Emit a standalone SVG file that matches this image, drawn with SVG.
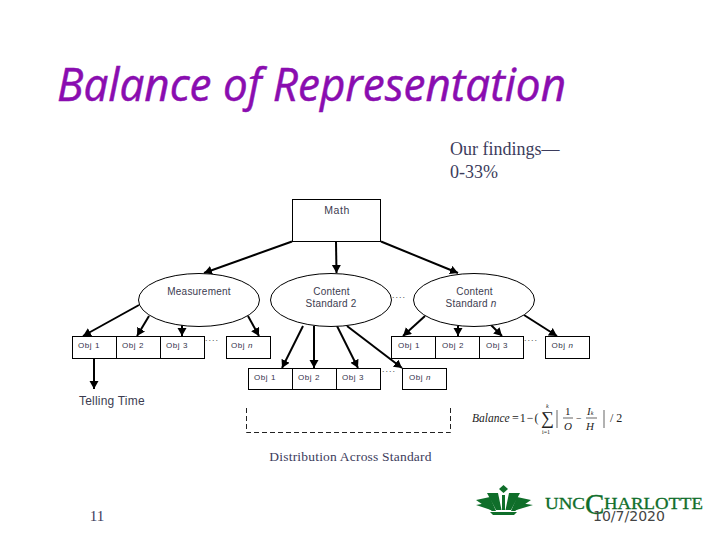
<svg xmlns="http://www.w3.org/2000/svg" width="720" height="540" viewBox="0 0 720 540">
<style>
.box{fill:#fff;stroke:#000;stroke-width:1}
.con{fill:none;stroke:#000;stroke-width:2;marker-end:url(#ah)}
.s{font-family:"Liberation Sans",Arial,sans-serif;font-size:10px;fill:#3c3c50;text-anchor:middle;letter-spacing:.2px}
.o{font-family:"Liberation Sans",Arial,sans-serif;font-size:8px;fill:#33334a;text-anchor:middle;letter-spacing:.6px}
.d{font-family:"Liberation Sans",Arial,sans-serif;font-size:9px;fill:#555;letter-spacing:1px}
.f{font-family:"Liberation Serif","Times New Roman",serif;fill:#222}
</style>
<defs><marker id="ah" markerUnits="userSpaceOnUse" markerWidth="10" markerHeight="10" refX="8" refY="4.500" orient="auto"><path d="M0 0L8 4.500L0 9Z" fill="#000"/></marker></defs>
<rect width="720" height="540" fill="#fff"/>
<text x="57" y="101" font-family="'Open Sans',sans-serif" font-style="italic" font-size="45" fill="#8A0DB0" stroke="#8A0DB0" stroke-width=".5" textLength="509" lengthAdjust="spacingAndGlyphs">Balance of Representation</text>
<g id="findings"><text x="450" y="155" font-family="'Liberation Serif',serif" font-size="18" fill="#3c3c5c">Our findings—</text><text x="450" y="178" font-family="'Liberation Serif',serif" font-size="18" fill="#3c3c5c">0-33%</text></g>
<g id="connectors">
<path class="con" d="M292 241.500L204 273"/><path class="con" d="M336 241.500L336.500 273"/><path class="con" d="M381 241.500L458 273"/>
<path class="con" d="M139 305L83 336"/><path class="con" d="M149 316L137 336"/><path class="con" d="M182 325L182 336"/><path class="con" d="M248 316L259 336"/>
<path class="con" d="M303 326L282 368"/><path class="con" d="M314 326L314 368"/><path class="con" d="M337 326L358 368"/><path class="con" d="M347 326L402 368"/>
<path class="con" d="M425 316L403 336"/><path class="con" d="M458 326L458 336"/><path class="con" d="M491 325L502 336"/><path class="con" d="M524 315L557 336"/>
<path class="con" d="M94 358L94 389"/>
</g>
<g id="math"><rect class="box" x="292.500" y="199.500" width="88" height="42"/><text class="s" x="337" y="214" style="font-size:10.500px;letter-spacing:.6px">Math</text></g>
<g id="measurement"><ellipse class="box" cx="199" cy="300" rx="60.500" ry="26.500"/><text class="s" x="199" y="295">Measurement</text></g>
<g id="standard2"><ellipse class="box" cx="331" cy="300" rx="60.500" ry="26.500"/><text class="s" x="331.500" y="295">Content</text><text class="s" x="331" y="307">Standard 2</text></g>
<g id="standardn"><ellipse class="box" cx="474" cy="300" rx="60.500" ry="26.500"/><text class="s" x="474.500" y="295">Content</text><text class="s" x="471" y="307">Standard <tspan font-style="italic">n</tspan></text></g>
<g id="row1">
<g id="m1"><rect class="box" x="72.500" y="336.500" width="44" height="22"/><text class="o" x="89" y="348">Obj 1</text></g>
<g id="m2"><rect class="box" x="116.500" y="336.500" width="44" height="22"/><text class="o" x="133" y="348">Obj 2</text></g>
<g id="m3"><rect class="box" x="160.500" y="336.500" width="44" height="22"/><text class="o" x="177" y="348">Obj 3</text></g>
<g id="mn"><rect class="box" x="226.500" y="336.500" width="44" height="22"/><text class="o" x="242" y="348">Obj <tspan font-style="italic">n</tspan></text></g>
</g>
<g id="row2">
<g id="c1"><rect class="box" x="248.500" y="368.500" width="44" height="21"/><text class="o" x="265" y="380">Obj 1</text></g>
<g id="c2"><rect class="box" x="292.500" y="368.500" width="44" height="21"/><text class="o" x="309" y="380">Obj 2</text></g>
<g id="c3"><rect class="box" x="336.500" y="368.500" width="44" height="21"/><text class="o" x="353" y="380">Obj 3</text></g>
<g id="cn"><rect class="box" x="402.500" y="368.500" width="44" height="21"/><text class="o" x="420" y="380">Obj <tspan font-style="italic">n</tspan></text></g>
</g>
<g id="row3">
<g id="n1"><rect class="box" x="391.500" y="336.500" width="44" height="22"/><text class="o" x="409" y="348">Obj 1</text></g>
<g id="n2"><rect class="box" x="435.500" y="336.500" width="44" height="22"/><text class="o" x="453" y="348">Obj 2</text></g>
<g id="n3"><rect class="box" x="479.500" y="336.500" width="44" height="22"/><text class="o" x="497" y="348">Obj 3</text></g>
<g id="nn"><rect class="box" x="545.500" y="336.500" width="44" height="22"/><text class="o" x="562.500" y="348">Obj <tspan font-style="italic">n</tspan></text></g>
</g>
<g id="dots">
<text class="d" x="205" y="341">....</text><text class="d" x="392" y="298">....</text><text class="d" x="382" y="372">....</text><text class="d" x="524" y="341">....</text>
</g>
<text x="79" y="405" font-family="'Liberation Sans',sans-serif" font-size="12" fill="#3c3c50" letter-spacing=".2">Telling Time</text>
<path d="M246.500 408V432.500H450.500V408" fill="none" stroke="#222" stroke-dasharray="5 3"/>
<text x="350.500" y="461" text-anchor="middle" font-family="'Liberation Serif',serif" font-size="13.500" fill="#3c3c5c" letter-spacing=".2">Distribution Across Standard</text>
<g id="formula" class="f">
<text x="472" y="422" font-size="11.500" font-style="italic">Balance</text><text x="512" y="422" font-size="12" letter-spacing="1">=1−(</text>
<text x="541" y="424" font-size="18">∑</text><text x="546" y="408" font-size="6" font-style="italic">k</text><text x="542" y="434" font-size="6">i=1</text>
<path d="M557 410V428M604 410V428" stroke="#222" stroke-width=".7" fill="none"/>
<text x="565" y="415" font-size="11">1</text><path d="M563 418H573M586 418H597" stroke="#222" stroke-width=".7"/>
<text x="564" y="430" font-size="11" font-style="italic">O</text><text x="576" y="422" font-size="10">−</text>
<text x="587" y="415" font-size="11" font-style="italic">I<tspan font-size="6">k</tspan></text><text x="586" y="430" font-size="11" font-style="italic">H</text>
<text x="610" y="422" font-size="12">/ 2</text>
</g>
<text x="97" y="521" text-anchor="middle" font-family="'Liberation Serif',serif" font-size="15" fill="#3c3c5c">11</text>
<g id="logo" fill="#0F6E2A">
<path d="M503.500 485L508 489L503.500 493L499 489Z"/>
<path d="M487 493H498L501.500 510H496ZM520 493H509L505.500 510H511Z"/>
<path d="M476 500L490 497L496 511H492ZM531 500L517 497L511 511H515Z"/>
<path d="M502 495H505V510H502Z"/>
<path d="M476 505L487 503L494 511ZM533 505L520 503L513 511Z"/>
<path d="M490 512H517L514 515H493Z"/>
<g stroke="#0F6E2A" stroke-width=".3">
<text x="545" y="509" font-family="'Liberation Serif',serif" font-size="17" textLength="40" lengthAdjust="spacingAndGlyphs">UNC</text>
<text x="585" y="514" font-family="'Liberation Serif',serif" font-size="29">C</text>
<text x="604" y="509" font-family="'Liberation Serif',serif" font-size="17" textLength="99" lengthAdjust="spacingAndGlyphs">HARLOTTE</text>
</g>
</g>
<text x="593" y="521" font-family="'DejaVu Sans',sans-serif" font-size="14" fill="#444" textLength="72" lengthAdjust="spacingAndGlyphs">10/7/2020</text>
</svg>
